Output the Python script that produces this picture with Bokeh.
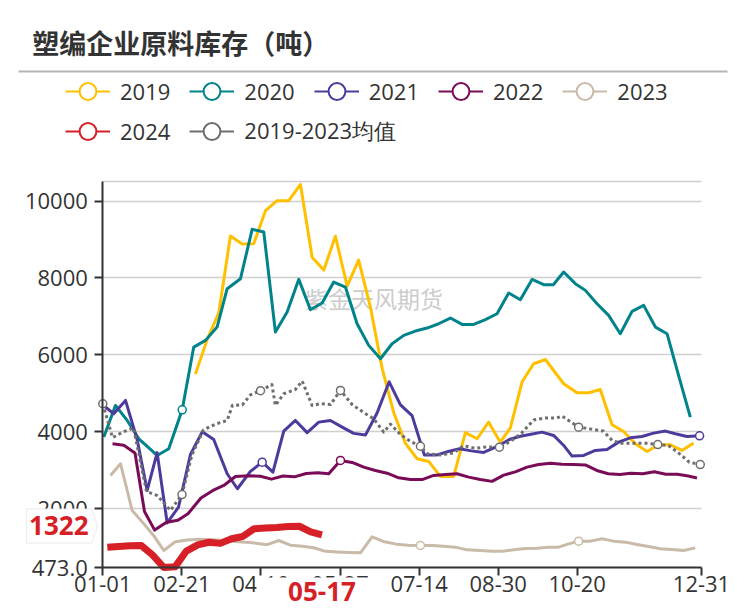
from bokeh.plotting import figure
from bokeh.models import (Range1d, FixedTicker, Label, Legend, LegendItem, PolyAnnotation, Grid)
from bokeh.embed import file_html
from bokeh.resources import INLINE

title_text = "塑编企业原料库存（吨）"
watermark_text = "紫金天风期货"

# x axis: week slots, 01-01 = 0 ... 12-31 = 53
tick_pos = [0, 7, 14, 21, 28, 35, 42, 53]
tick_labels = ["01-01", "02-21", "04-10", "05-27", "07-14", "08-30", "10-20", "12-31"]
y_ticks = [473, 2000, 4000, 6000, 8000, 10000]
x_min, x_max = 0, 53
y_min, y_max = 473, 10515

x_2019 = [8.20, 9.24, 10.27, 11.30, 12.34, 13.36, 14.40, 15.43, 16.46, 17.50, 18.53, 19.56, 20.59, 21.63,
          22.65, 23.69, 24.73, 25.75, 26.79, 27.82, 28.85, 29.88, 31.06, 32.10, 33.13, 34.16, 35.19, 36.08,
          37.12, 38.14, 39.18, 40.80, 41.98, 43.01, 44.04, 45.08, 46.11, 47.14, 48.18, 49.20, 50.24, 51.27, 52.30]
y_2019 = [5500, 6400, 7100, 9090, 8880, 8890, 9750, 10010, 10010, 10430, 8540, 8205, 9085, 7790,
          8465, 7243, 5650, 4500, 3700, 3300, 3230, 2840, 2840, 3980, 3820, 4250, 3730, 4100,
          5300, 5770, 5880, 5250, 5016, 5016, 5100, 4184, 4010, 3690, 3490, 3664, 3664, 3516, 3706]

x_2020 = [0.09, 1.12, 2.16, 3.19, 4.81, 5.84, 7.03, 8.05, 9.09, 10.12, 11.01, 12.19, 13.22, 14.25, 15.28,
          16.32, 17.35, 18.38, 19.42, 20.44, 21.48, 22.51, 23.54, 24.58, 25.61, 26.64, 27.67, 28.71, 29.73,
          30.77, 31.81, 32.83, 33.87, 34.90, 35.93, 36.96, 38.00, 39.03, 39.88, 40.80, 41.83, 42.72, 43.75,
          44.78, 45.81, 46.85, 47.88, 48.92, 49.95, 50.97, 52.01]
y_2020 = [3863, 4686, 4296, 3819, 3386, 3559, 4573, 6203, 6377, 6724, 7721, 7981, 9264, 9195, 6594,
          7114, 7963, 7174, 7348, 7894, 7764, 6810, 6247, 5900, 6290, 6507, 6620, 6698, 6810,
          6958, 6793, 6793, 6915, 7070, 7608, 7435, 7960, 7825, 7825, 8154, 7852, 7677, 7331,
          7027, 6551, 7131, 7287, 6723, 6551, 5467, 4382]

x_2021 = [0, 0.97, 2.01, 3.04, 3.93, 4.81, 5.70, 6.70, 7.76, 8.80, 9.82, 11.01, 11.92, 13.07, 14.11,
          15.06, 16.02, 17.05, 18.09, 19.12, 20.15, 21.19, 22.21, 23.25, 24.28, 25.35, 26.35, 27.38,
          28.47, 29.51, 30.59, 31.57, 32.63, 33.72, 34.97, 35.99, 36.96, 37.92, 38.88, 39.91, 40.80,
          41.54, 42.57, 43.60, 44.64, 45.66, 46.70, 47.73, 48.76, 49.80, 50.68, 51.72, 52.83]
y_2021 = [4700, 4470, 4816, 3800, 2475, 3460, 1630, 2040, 3410, 4000, 3800, 2910, 2520, 2970, 3212,
          2952, 4020, 4296, 3980, 4252, 4296, 4122, 3960, 3915, 4490, 5300, 4700, 4420,
          3395, 3395, 3490, 3560, 3505, 3465, 3625, 3800, 3884, 3935, 3992, 3906, 3646,
          3369, 3386, 3516, 3542, 3732, 3845, 3880, 3966, 4019, 3949, 3880, 3897]

x_2022 = [0.86, 1.86, 2.85, 3.69, 4.59, 5.64, 6.65, 7.54, 8.69, 9.75, 10.71, 11.74, 12.92, 13.96, 14.93,
          15.95, 16.96, 18.01, 19.04, 20.00, 21.04, 22.07, 23.10, 24.13, 25.17, 26.19, 27.23, 28.27,
          29.29, 30.33, 31.36, 32.39, 33.42, 34.46, 35.49, 36.52, 37.56, 38.58, 39.62, 40.65, 41.68,
          42.72, 43.73, 44.75, 45.77, 46.74, 47.81, 48.82, 49.84, 50.86, 51.83, 52.60]
y_2022 = [3690, 3650, 3450, 1930, 1445, 1650, 1700, 1870, 2280, 2475, 2605, 2840, 2860, 2845, 2770,
          2850, 2830, 2918, 2936, 2910, 3255, 3205, 3082, 2996, 2925, 2805, 2758, 2758,
          2866, 2891, 2910, 2822, 2762, 2712, 2875, 2960, 3082, 3152, 3180, 3160, 3150,
          3140, 2996, 2910, 2888, 2925, 2910, 2960, 2895, 2895, 2850, 2800]

x_2023 = [0.68, 1.57, 2.60, 3.60, 4.51, 5.40, 6.43, 7.47, 8.56, 9.68, 10.77, 11.92, 13.07, 14.55, 15.58,
          16.61, 17.65, 18.67, 19.71, 20.74, 21.77, 22.81, 23.84, 24.93, 25.99, 27.05, 28.12, 29.15,
          30.18, 31.21, 32.25, 33.42, 34.46, 35.35, 36.37, 37.41, 38.44, 39.47, 40.35, 41.24, 42.12,
          43.16, 44.19, 45.22, 46.26, 47.29, 48.32, 49.35, 50.39, 51.42, 52.45]
y_2023 = [2866, 3170, 1955, 1620, 1300, 915, 1145, 1190, 1205, 1196, 1175, 1140, 1120, 1067, 1175,
          1054, 1023, 985, 893, 875, 862, 855, 1270, 1140, 1080, 1054, 1045, 1045,
          1028, 1002, 932, 915, 897, 897, 932, 967, 976, 1002, 1002, 1088, 1158,
          1158, 1218, 1158, 1132, 1071, 1019, 958, 941, 915, 984]

x_2024 = [0.4, 1.4, 2.4, 3.4, 4.4, 5.4, 6.4, 7.4, 8.4, 9.4, 10.4, 11.4, 12.4, 13.4, 14.4, 15.4, 16.4,
          17.4, 18.4, 19.4]
y_2024 = [1000, 1020, 1040, 1045, 800, 473, 490, 900, 1060, 1130, 1100, 1220, 1280, 1480, 1500, 1515,
          1540, 1545, 1400, 1322]
last_date_2024 = "05-17"

x_avg = [0, 0.86, 1.83, 2.72, 3.87, 4.84, 5.99, 7.01, 7.89, 8.91, 9.97, 11.01, 11.48, 12.36, 13.07,
         13.96, 14.97, 15.28, 16.02, 17.05, 17.65, 18.53, 19.27, 20.15, 21.04, 22.07, 23.10, 23.98,
         24.87, 25.46, 26.35, 27.23, 28.12, 28.71, 29.88, 31.06, 31.95, 32.98, 34.02, 35.11, 36.08,
         37.12, 38.14, 39.18, 40.21, 40.65, 42.12, 43.25, 44.31, 45.11, 45.96, 47.14, 48.18, 49.13,
         50.09, 50.97, 51.92, 52.89]
y_avg = [4730, 3850, 4000, 4100, 2450, 2340, 1955, 2370, 3400, 4050, 4200, 4296, 4690, 4700, 4960,
         5070, 5230, 4686, 4990, 5100, 5320, 4686, 4730, 4710, 5076, 4710, 4500, 4340,
         3992, 4200, 3930, 3750, 3625, 3430, 3400, 3450, 3640, 3570, 3610, 3602, 3750,
         3980, 4310, 4360, 4360, 4410, 4122, 4070, 4020, 3770, 3700, 3700, 3700, 3668,
         3640, 3450, 3210, 3148]

# (name, x, y, color, width, dash, indices of symbol points)
series = [
    ("2019", x_2019, y_2019, "#FFC000", 3, "solid", []),
    ("2020", x_2020, y_2020, "#00838A", 3, "solid", [6]),
    ("2021", x_2021, y_2021, "#4E3A9C", 3, "solid", [14, 52]),
    ("2022", x_2022, y_2022, "#7A0B57", 3, "solid", [20]),
    ("2023", x_2023, y_2023, "#C9BBA8", 3, "solid", [26, 40]),
    ("2024", x_2024, y_2024, "#D71F27", 7, "solid", []),
    ("2019-2023均值", x_avg, y_avg, "#6E6E6E", 3, "3 3", [0, 7, 15, 24, 32, 39, 46, 53, 57]),
]

RED = "#D71F27"
TXT = "#333333"

# ---- layout (pixels of the 746x611 canvas) ----
W, H = 746, 611
PL, PR, PT, PB = 102.3, 701.0, 180.7, 567.0   # plot area edges
kx = (PR - PL) / (x_max - x_min)
ky = (PB - PT) / (y_max - y_min)
x_range = Range1d(x_min - PL / kx, x_min + (W - PL) / kx)
y_range = Range1d(y_min - (H - PB) / ky, y_min + PB / ky)

def sy(top):  # screen y measured from the top -> Bokeh screen units (from bottom)
    return H - top

p = figure(width=W, height=H, output_backend="svg", toolbar_location=None,
           x_range=x_range, y_range=y_range, min_border=0)
p.outline_line_color = None
p.background_fill_color = "white"
p.border_fill_color = "white"

p.xaxis.fixed_location = y_min
p.yaxis.fixed_location = x_min
p.xaxis.bounds = (x_min, x_max)
p.yaxis.bounds = (y_min, y_max)
p.xaxis.ticker = FixedTicker(ticks=tick_pos)
p.xaxis.major_label_overrides = dict(zip(tick_pos, tick_labels))
p.yaxis.ticker = FixedTicker(ticks=y_ticks)
p.yaxis.major_label_overrides = {y_ticks[0]: f"{y_ticks[0]:.1f}"}
for ax in (p.xaxis[0], p.yaxis[0]):
    ax.axis_line_color = TXT
    ax.axis_line_width = 2
    ax.major_tick_line_color = TXT
    ax.major_tick_line_width = 2
    ax.major_tick_out = 8
    ax.major_tick_in = 0
    ax.minor_tick_line_color = None
    ax.major_label_text_font = "Open Sans"
    ax.major_label_text_font_size = "22px"
    ax.major_label_text_color = TXT
p.yaxis.major_label_standoff = 7
p.xaxis.major_label_standoff = 0

p.xgrid.visible = False
p.ygrid.ticker = FixedTicker(ticks=y_ticks[1:] + [y_max])
p.ygrid.grid_line_color = "#d0d0d0"
p.ygrid.grid_line_width = 1.5
if "cross_bounds" in Grid.properties():
    p.ygrid.cross_bounds = (x_min, x_max)
else:
    p.ygrid.visible = False
    gy = y_ticks[1:] + [y_max]
    p.segment(x0=[x_min] * len(gy), x1=[x_max] * len(gy), y0=gy, y1=gy,
              line_color="#d0d0d0", line_width=1.5, level="underlay")

# watermark
p.add_layout(Label(x=373.5, y=sy(297.5), x_units="screen", y_units="screen", text=watermark_text,
                   text_font="Noto Sans CJK SC", text_font_size="23px", text_color="#cccccc",
                   text_align="center", text_baseline="middle", level="underlay"))

items_row1, items_row2 = [], []
for name, xs, ys, color, w, dash, marks in series:
    p.line(xs, ys, line_color=color, line_width=w, line_dash=dash, line_join="round")
    if marks:
        p.scatter([xs[i] for i in marks], [ys[i] for i in marks], size=8, marker="circle",
                  fill_color="white", line_color=color, line_width=1.5)
    # legend icon renderers (hidden in the plot)
    lr = p.line(xs, ys, line_color=color, line_width=2, visible=False)
    sr = p.scatter(xs, ys, marker="circle", size=10, fill_color="white", line_color=color,
                   line_width=2, visible=False)
    item = LegendItem(label=name, renderers=[lr, sr])
    (items_row1 if len(items_row1) < 5 else items_row2).append(item)

for items, bottom in ((items_row1, 112), (items_row2, 152)):
    lg = Legend(items=items, location=(65, sy(bottom)), orientation="horizontal",
                glyph_width=45, glyph_height=42, label_standoff=10, spacing=19,
                padding=0, margin=0, border_line_alpha=0, background_fill_alpha=0,
                inactive_fill_alpha=0,
                label_text_font="Open Sans", label_text_font_size="22px", label_text_color=TXT)
    p.add_layout(lg)

# title + separator
p.add_layout(Label(x=31.7, y=sy(41.7), x_units="screen", y_units="screen", text=title_text,
                   text_font="Noto Sans CJK SC", text_font_style="bold", text_font_size="27px",
                   text_color=TXT, text_align="left", text_baseline="middle"))
p.add_layout(PolyAnnotation(xs=[18, 727, 727, 18], ys=[sy(70), sy(70), sy(72), sy(72)],
                            xs_units="screen", ys_units="screen", fill_color="#b5b5b5",
                            fill_alpha=1, line_alpha=0))

# x pointer label for the last 2024 point (drawn over the axis labels)
p.add_layout(PolyAnnotation(xs=[256, 388, 388, 256], ys=[sy(577), sy(577), sy(607), sy(607)],
                            xs_units="screen", ys_units="screen", fill_color="white",
                            fill_alpha=1, line_alpha=0, level="overlay"))
p.add_layout(Label(x=x_2024[-1], y=sy(591), x_units="data", y_units="screen", text=last_date_2024,
                   text_font="Open Sans", text_font_style="bold", text_font_size="26px",
                   text_color=RED, text_align="center", text_baseline="middle", level="overlay"))

# y pointer label for the last 2024 value
p.add_layout(PolyAnnotation(xs=[26, 91, 97, 91, 26],
                            ys=[sy(508.3), sy(508.3), sy(525.5), sy(542.7), sy(542.7)],
                            xs_units="screen", ys_units="screen", fill_color="white",
                            fill_alpha=1, line_color="#c8c8c8", line_width=1.2, level="overlay"))
p.add_layout(Label(x=58.3, y=sy(525), x_units="screen", y_units="screen", text=str(y_2024[-1]),
                   text_font="Open Sans", text_font_style="bold", text_font_size="26px",
                   text_color=RED, text_align="center", text_baseline="middle", level="overlay"))

open("out.html", "w").write(file_html(p, INLINE))
